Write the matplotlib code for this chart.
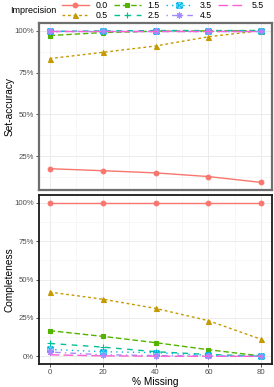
import numpy as np
import matplotlib.pyplot as plt
from matplotlib.path import Path
from matplotlib.lines import Line2D
from matplotlib.ticker import FuncFormatter, MultipleLocator

plt.rcParams['font.family'] = ['Liberation Sans', 'DejaVu Sans']

missing = [0, 20, 40, 60, 80]
levels = ['0.0', '0.5', '1.5', '2.5', '3.5', '4.5', '5.5']

# set-accuracy (%) per imprecision level
acc_00 = [17.7, 16.5, 15.2, 13.0, 9.5]
acc_05 = [83.3, 87.0, 90.8, 96.3, 100.0]
acc_15 = [97.0, 98.8, 99.6, 99.8, 100.0]
acc_25 = [99.5, 99.8, 100.0, 100.0, 100.0]
acc_35 = [100.0, 100.0, 100.0, 100.0, 100.0]
acc_45 = [100.0, 100.0, 100.0, 100.0, 100.0]
acc_55 = [100.0, 100.0, 100.0, 100.0, 100.0]

# completeness (%) per imprecision level
comp_00 = [100.0, 100.0, 100.0, 100.0, 100.0]
comp_05 = [41.8, 37.2, 31.2, 23.2, 11.0]
comp_15 = [16.7, 13.0, 8.9, 4.3, 0.2]
comp_25 = [8.4, 6.0, 3.0, 1.2, 0.1]
comp_35 = [4.5, 3.0, 2.4, 0.6, 0.0]
comp_45 = [2.8, 1.0, 0.5, 0.2, 0.0]
comp_55 = [1.0, 0.3, 0.1, 0.0, 0.0]

acc_all = [acc_00, acc_05, acc_15, acc_25, acc_35, acc_45, acc_55]
comp_all = [comp_00, comp_05, comp_15, comp_25, comp_35, comp_45, comp_55]

colors = ['#F8766D', '#C49A00', '#53B400', '#00C094', '#00B6EB', '#A58AFF', '#FB61D7']
dashes = ['-', (0, (2, 2)), (0, (4, 2)), (0, (4, 4)), (0, (1, 3)), (0, (1, 3, 4, 3)), (0, (7, 3))]

# boxed cross marker (ggplot shape 7)
box_x = Path([(-1, -1), (1, -1), (1, 1), (-1, 1), (-1, -1), (-1, -1), (1, 1), (-1, 1), (1, -1)],
             [Path.MOVETO, Path.LINETO, Path.LINETO, Path.LINETO, Path.CLOSEPOLY,
              Path.MOVETO, Path.LINETO, Path.MOVETO, Path.LINETO])
markers = ['o', '^', 's', '+', box_x, (8, 2, 0), None]
msizes = [3.4, 3.6, 3.2, 4.3, 3.8, 4.3, 0]


def style(i):
    kw = dict(color=colors[i], linestyle=dashes[i], lw=1.0)
    if markers[i] is not None:
        kw.update(marker=markers[i], markersize=msizes[i], markeredgewidth=0.8)
        if i == 4:
            kw.update(markerfacecolor='none')
    return kw


fig = plt.figure(figsize=(2.74, 3.87), dpi=100)
W, H = 274, 387
ax1 = fig.add_axes([39 / W, 1 - 190 / H, 233 / W, 167 / H])
ax2 = fig.add_axes([39 / W, 1 - 364 / H, 233 / W, 169 / H])

for i in range(len(levels)):
    ax1.plot(missing, acc_all[i], **style(i))
    ax2.plot(missing, comp_all[i], **style(i))

pct = FuncFormatter(lambda v, p: f'{v:.0f}%')
for ax, ylim in [(ax1, (5.0, 104.5)), (ax2, (-5, 105))]:
    ax.set_xlim(-4, 84)
    ax.set_ylim(*ylim)
    ax.xaxis.set_major_locator(MultipleLocator(20))
    ax.xaxis.set_minor_locator(MultipleLocator(10))
    ax.yaxis.set_major_locator(MultipleLocator(25))
    ax.yaxis.set_minor_locator(MultipleLocator(12.5))
    ax.yaxis.set_major_formatter(pct)
    ax.grid(True, which='major', color='#EBEBEB', lw=0.7)
    ax.grid(True, which='minor', color='#F2F2F2', lw=0.4)
    ax.set_axisbelow(True)
    ax.tick_params(which='major', length=2, width=0.6, color='#333333',
                   labelsize=5.6, labelcolor='#4D4D4D', pad=1.5)
    ax.tick_params(which='minor', length=0)
    ax.yaxis.set_label_coords(-0.105, 0.5)

ax1.tick_params(axis='x', which='both', bottom=False, labelbottom=False)
for s in ax1.spines.values():
    s.set_color('#6E6E6E')
    s.set_linewidth(1.6)
for s in ax2.spines.values():
    s.set_color('#1A1A1A')
    s.set_linewidth(1.3)

ax1.set_ylabel('Set-accuracy', fontsize=7.3)
ax2.set_ylabel('Completeness', fontsize=7.3)
ax2.set_xlabel('% Missing', fontsize=7.3, labelpad=1)

handles = [Line2D([], [], **style(i)) for i in range(len(levels))]
fig.text(10 / W, 1 - 10.5 / H, 'Imprecision', fontsize=6.5, va='center', ha='left')
fig.legend(handles, levels, loc='upper left', bbox_to_anchor=(61.7 / W, 1 - 1.0 / H),
           ncol=4, frameon=False, fontsize=6.3, borderpad=0, borderaxespad=0,
           handlelength=3.1, handletextpad=0.8, columnspacing=0.65, labelspacing=0.1)

fig.savefig('out.png', dpi=100)
